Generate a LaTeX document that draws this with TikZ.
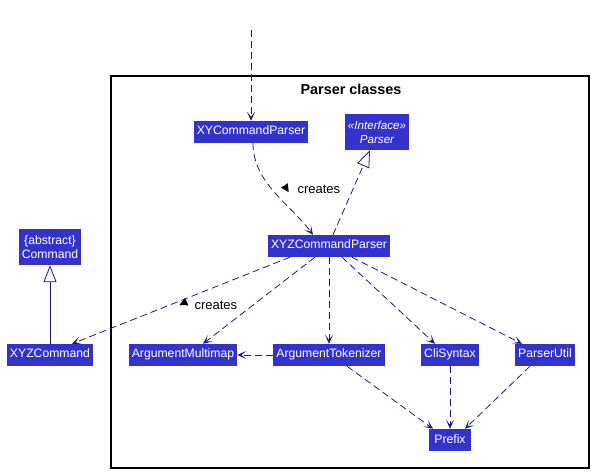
\documentclass[tikz,border=0pt]{standalone}
\usepackage{fontspec}
\setmainfont{Liberation Sans}
\usepackage{xcolor}
\usetikzlibrary{arrows.meta,positioning}

\definecolor{clsfill}{HTML}{3333CC}
\definecolor{clsline}{HTML}{181888}

\begin{document}
\begin{tikzpicture}[x=1pt,y=-1pt]
\useasboundingbox (0,0) rectangle (595,473);

\tikzset{clsbase/.style={fill=clsfill,text=white,font=\fontsize{12.2}{14}\selectfont,
		inner xsep=3pt,align=center},
	cls/.style={clsbase,inner ysep=5pt,text height=9pt,text depth=3pt},
	cls2/.style={clsbase,inner ysep=2pt,minimum height=36pt},
	dep/.style={clsline,line width=0.8pt,dash pattern=on 7pt off 4pt,
		-{Stealth[length=9pt,width=8pt,inset=5pt]}},
	real/.style={clsline,line width=0.8pt,dash pattern=on 7pt off 4pt,
		-{Triangle[open,length=17pt,width=13pt,fill=white]}},
	gen/.style={clsline,line width=0.8pt,
		-{Triangle[open,length=17pt,width=13pt,fill=white]}},
	lbl/.style={font=\fontsize{13}{15}\selectfont}}

% package frame
\draw[line width=1.2pt] (111,76) rectangle (589,468);
\node(title) at (351,89){\fontsize{14.4}{16}\selectfont\bfseries Parser classes};

% classes
\node(xyp)[cls] at (251,132){XYCommandParser};
\node(parser)[cls2,font=\fontsize{11.6}{14}\selectfont\itshape] at (377,132){«Interface»\\Parser};
\node(xyzp)[cls] at (329,246){XYZCommandParser};
\node(cmd)[cls2] at (50,247){\{abstract\}\\Command};
\node(xyzcmd)[cls] at (50,355){XYZCommand};
\node(amm)[cls] at (183,355){ArgumentMultimap};
\node(argtok)[cls] at (329,355){ArgumentTokenizer};
\node(cli)[cls] at (450,355){CliSyntax};
\node(putil)[cls] at (545,355){ParserUtil};
\node(prefix)[cls,inner xsep=5pt] at (450,440){Prefix};

\coordinate(in) at (251,30);

% connectors
\draw[dep] (in) -- (xyp.north);
\draw[dep] ([xshift=2pt]xyp.south) .. controls +(0,40) and +(-22,-30) .. ([xshift=-16pt]xyzp.north);
\draw[real] ([xshift=4pt]xyzp.north) -- ([xshift=-7pt]parser.south);
\draw[dep] ([xshift=-39pt]xyzp.south) -- ([xshift=22pt]xyzcmd.north);
\draw[dep] ([xshift=-14pt]xyzp.south) -- ([xshift=20pt]amm.north);
\draw[dep] (xyzp.south) -- (argtok.north);
\draw[dep] ([xshift=13pt]xyzp.south) -- ([xshift=-15pt]cli.north);
\draw[dep] ([xshift=23pt]xyzp.south) -- ([xshift=-23pt]putil.north);
\draw[dep] (argtok.west) -- (amm.east);
\draw[dep] ([xshift=18pt]argtok.south) -- ([xshift=-17pt]prefix.north);
\draw[dep] (cli.south) -- (prefix.north);
\draw[dep] ([xshift=-15pt]putil.south) -- ([xshift=15pt]prefix.north);
\draw[gen] (xyzcmd.north) -- (cmd.south);

% labels
\node(cr1)[lbl,anchor=west] at (294,189){creates};
\node(cr2)[lbl,anchor=west] at (191,305){creates};
\fill (288.7,192.2) -- (287.8,183.3) -- (281.0,187.7) -- cycle;
\fill (179.4,305.1) -- (188.4,305.3) -- (185.0,298.1) -- cycle;

\end{tikzpicture}
\end{document}
